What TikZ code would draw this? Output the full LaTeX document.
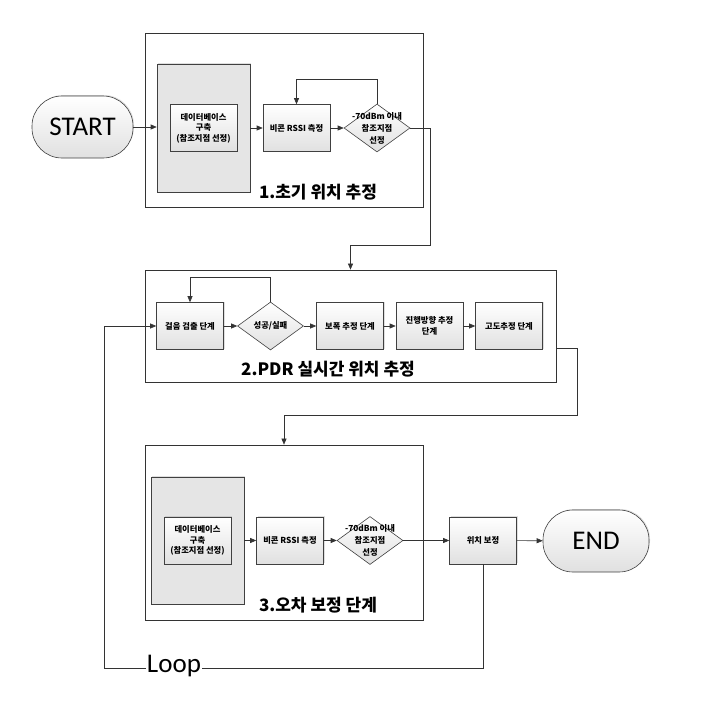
\documentclass[tikz,border=0pt]{standalone}
\usepackage{fontspec}
\setmainfont{Noto Sans CJK KR}
\newfontfamily\latinfont{Carlito}
\usetikzlibrary{arrows.meta}
\usetikzlibrary{shapes.geometric}
\usetikzlibrary{positioning}
\usetikzlibrary{shadows}
\tikzset{frame/.style = {draw = black!80, line width = 0.7}}
\tikzset{graybox/.style = {draw = black!75, fill = black!10, line width = 0.6,
    drop shadow = {shadow xshift = 1, shadow yshift = -1, opacity = 0.25}}}
\tikzset{stepbox/.style = {draw = black!75, line width = 0.6, top color = white, bottom color = black!12,
    minimum width = 67, minimum height = 47, inner sep = 1, align = center,
    font = \bfseries\fontsize{8.3}{10.5}\selectfont,
    drop shadow = {shadow xshift = 1, shadow yshift = -1, opacity = 0.25}}}
\tikzset{dec/.style = {diamond, draw = black!75, line width = 0.6, top color = white, bottom color = black!12,
    minimum width = 66, minimum height = 48, inner sep = 0}}
\tikzset{dectxt/.style = {align = center, inner sep = 0, font = \bfseries\fontsize{8.3}{12}\selectfont}}
\tikzset{term/.style = {draw = black!75, line width = 0.6, rounded corners = 30, top color = white,
    bottom color = black!12, minimum height = 62, font = \latinfont\fontsize{27}{27}\selectfont,
    drop shadow = {shadow xshift = 1, shadow yshift = -1, opacity = 0.25}}}
\tikzset{ttl/.style = {font = \bfseries\fontsize{17}{17}\selectfont, inner sep = 0}}
\tikzset{line/.style = {draw = black!80, line width = 0.6}}
\tikzset{arr/.style = {line, -{Triangle[length = 6, width = 5]}}}

\begin{document}
\begin{tikzpicture}[x = 1pt, y = -1pt]
  \useasboundingbox (0, 0) rectangle (703, 704);

  % 1. initial position
  \node [frame, minimum width = 278, minimum height = 174] (f1) at (284, 120) {};
  \node [graybox, minimum width = 93, minimum height = 128] (g1) at (203.5, 128) {};
  \node [stepbox] (i1) at (203.5, 128) {데이터베이스\\구축\\(참조지점 선정)};
  \node [stepbox] (r1) at (296.5, 128) {비콘 RSSI 측정};
  \node [dec] (d1) at (377, 128) {};
  \node [dectxt] (d1t) at (d1) {-70dBm 이내\\참조지점\\선정};
  \node [ttl] (t1) at (318, 192) {1.초기 위치 추정};
  \node [term, minimum width = 101] (start) at (82.5, 127) {START};

  % 2. PDR
  \node [frame, minimum width = 411, minimum height = 112] (f2) at (350.5, 326) {};
  \node [stepbox] (b1) at (190, 326) {걸음 검출 단계};
  \node [dec] (d2) at (270.5, 326) {};
  \node [dectxt] (d2t) at (d2) {성공/실패};
  \node [stepbox] (b2) at (350, 326) {보폭 추정 단계};
  \node [stepbox] (b3) at (429.5, 326) {진행방향 추정\\단계};
  \node [stepbox] (b4) at (509, 326) {고도추정 단계};
  \node [ttl] (t2) at (328, 369) {2.PDR 실시간 위치 추정};

  % 3. error correction
  \node [frame, minimum width = 278, minimum height = 175] (f3) at (284, 532.5) {};
  \node [graybox, minimum width = 93, minimum height = 127] (g3) at (197.5, 540.5) {};
  \node [stepbox] (i3) at (197.5, 540.5) {데이터베이스\\구축\\(참조지점 선정)};
  \node [stepbox] (r3) at (290, 540.5) {비콘 RSSI 측정};
  \node [dec] (d3) at (370, 540.5) {};
  \node [dectxt] (d3t) at (d3) {-70dBm 이내\\참조지점\\선정};
  \node [ttl] (t3) at (318, 605) {3.오차 보정 단계};
  \node [stepbox] (fix) at (483, 540.5) {위치 보정};
  \node [term, minimum width = 106] (end) at (596, 541) {END};
  \node [inner sep = 1, font = \latinfont\fontsize{27}{27}\selectfont] (loop) at (174, 666) {Loop};

  \coordinate (c1) at (430, 245);
  \coordinate (s2) at (556, 348);
  \coordinate (c2) at (577, 415);
  \coordinate (c3) at (104, 668);

  \draw [arr] (start) -- (start -| g1.west);
  \draw [arr] (g1.east |- r1) -- (r1);
  \draw [arr] (r1) -- (d1);
  \draw [arr] (d1.north) -- ++(0, -24) -| (r1.north);
  \draw [arr] (d1.east) -| (c1) -| (f2.north);

  \draw [arr] (b1) -- (d2);
  \draw [arr] (d2.north) -- ++(0, -24) -| (b1.north);
  \draw [arr] (d2) -- (b2);
  \draw [arr] (b2) -- (b3);
  \draw [arr] (b3) -- (b4);
  \draw [arr] (s2) -| (c2) -| (f3.north);

  \draw [arr] (g3.east |- r3) -- (r3);
  \draw [arr] (r3) -- (d3);
  \draw [arr] (d3) -- (fix);
  \draw [arr] (fix) -- (end);
  \draw [line] (fix.south) |- (loop.east |- c3);
  \draw [arr] (loop.west |- c3) -- (c3) |- (b1);
\end{tikzpicture}
\end{document}
